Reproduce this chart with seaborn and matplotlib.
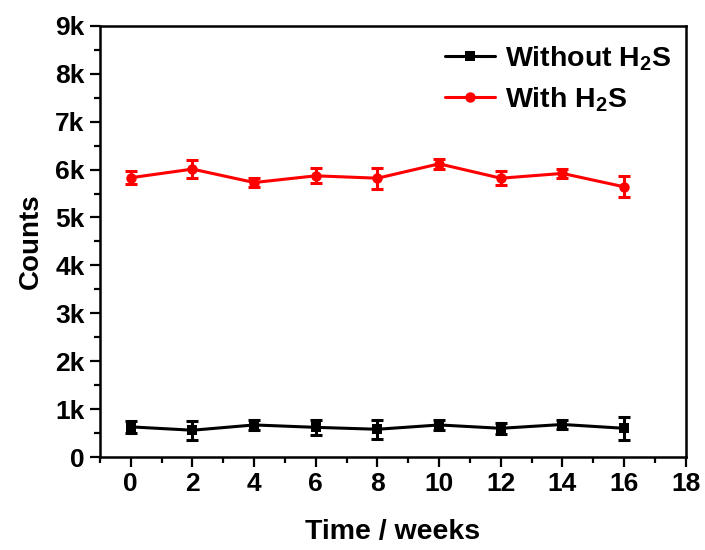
import matplotlib
matplotlib.use("Agg")
import matplotlib.pyplot as plt
import seaborn as sns
import pandas as pd
from matplotlib.ticker import MultipleLocator, FuncFormatter

weeks = [0, 2, 4, 6, 8, 10, 12, 14, 16]
without_h2s = [630, 560, 670, 620, 580, 670, 600, 680, 600]
without_err = [120, 200, 100, 150, 200, 100, 120, 100, 240]
with_h2s = [5830, 6010, 5730, 5870, 5820, 6120, 5820, 5920, 5640]
with_err = [140, 180, 100, 160, 220, 100, 140, 100, 220]
series_names = ["Without H$_\\mathbf{2}$S", "With H$_\\mathbf{2}$S"]
colors = ["black", "red"]

sns.set_style("ticks")
plt.rcParams["font.family"] = ["Liberation Sans", "DejaVu Sans"]
plt.rcParams["font.weight"] = "bold"
plt.rcParams["mathtext.fontset"] = "custom"
plt.rcParams["mathtext.bf"] = "Liberation Sans:bold"
plt.rcParams["mathtext.rm"] = "Liberation Sans:bold"
for k in ["text.color", "axes.labelcolor", "xtick.color", "ytick.color", "axes.edgecolor"]:
    plt.rcParams[k] = "black"

df = pd.DataFrame({
    "week": weeks * 2,
    "counts": without_h2s + with_h2s,
    "series": [series_names[0]] * len(weeks) + [series_names[1]] * len(weeks),
})

fig = plt.figure(figsize=(7.05, 5.5), dpi=100)
ax = fig.add_axes([0.1418, 0.169, 0.831, 0.784])

sns.lineplot(data=df, x="week", y="counts", hue="series", style="series",
             markers={series_names[0]: "s", series_names[1]: "o"}, dashes=False,
             palette=dict(zip(series_names, colors)), linewidth=2.2,
             markersize=7.5, markeredgewidth=0, ax=ax)

for vals, errs, c in [(without_h2s, without_err, colors[0]), (with_h2s, with_err, colors[1])]:
    ax.errorbar(weeks, vals, yerr=errs, fmt="none", ecolor=c, elinewidth=2.2,
                capsize=4, capthick=2.2)

ax.set_xlim(-1, 18)
ax.set_ylim(0, 9000)
ax.xaxis.set_major_locator(MultipleLocator(2))
ax.xaxis.set_minor_locator(MultipleLocator(1))
ax.yaxis.set_major_locator(MultipleLocator(1000))
ax.yaxis.set_minor_locator(MultipleLocator(500))
ax.yaxis.set_major_formatter(FuncFormatter(lambda v, p: "0" if v == 0 else f"{int(v/1000)}k"))

ax.tick_params(axis="both", which="major", direction="out", length=7, width=1.6,
               labelsize=19, pad=4, top=False, right=False)
ax.tick_params(axis="both", which="minor", direction="out", length=4, width=1.6,
               top=False, right=False)
for lbl in ax.get_xticklabels() + ax.get_yticklabels():
    lbl.set_fontweight("bold")
for s in ax.spines.values():
    s.set_linewidth(1.8)
    s.set_color("black")

ax.set_xlabel("Time / weeks", fontsize=20.5, fontweight="bold", labelpad=16)
ax.set_ylabel("Counts", fontsize=20, fontweight="bold", labelpad=8)

leg = ax.legend(loc="upper right", frameon=False, fontsize=20.5, handlelength=1.75,
                handletextpad=0.35, borderaxespad=0.0, labelspacing=0.45,
                bbox_to_anchor=(0.995, 0.985))
for t in leg.get_texts():
    t.set_fontweight("bold")

fig.savefig("out.png", dpi=100)
